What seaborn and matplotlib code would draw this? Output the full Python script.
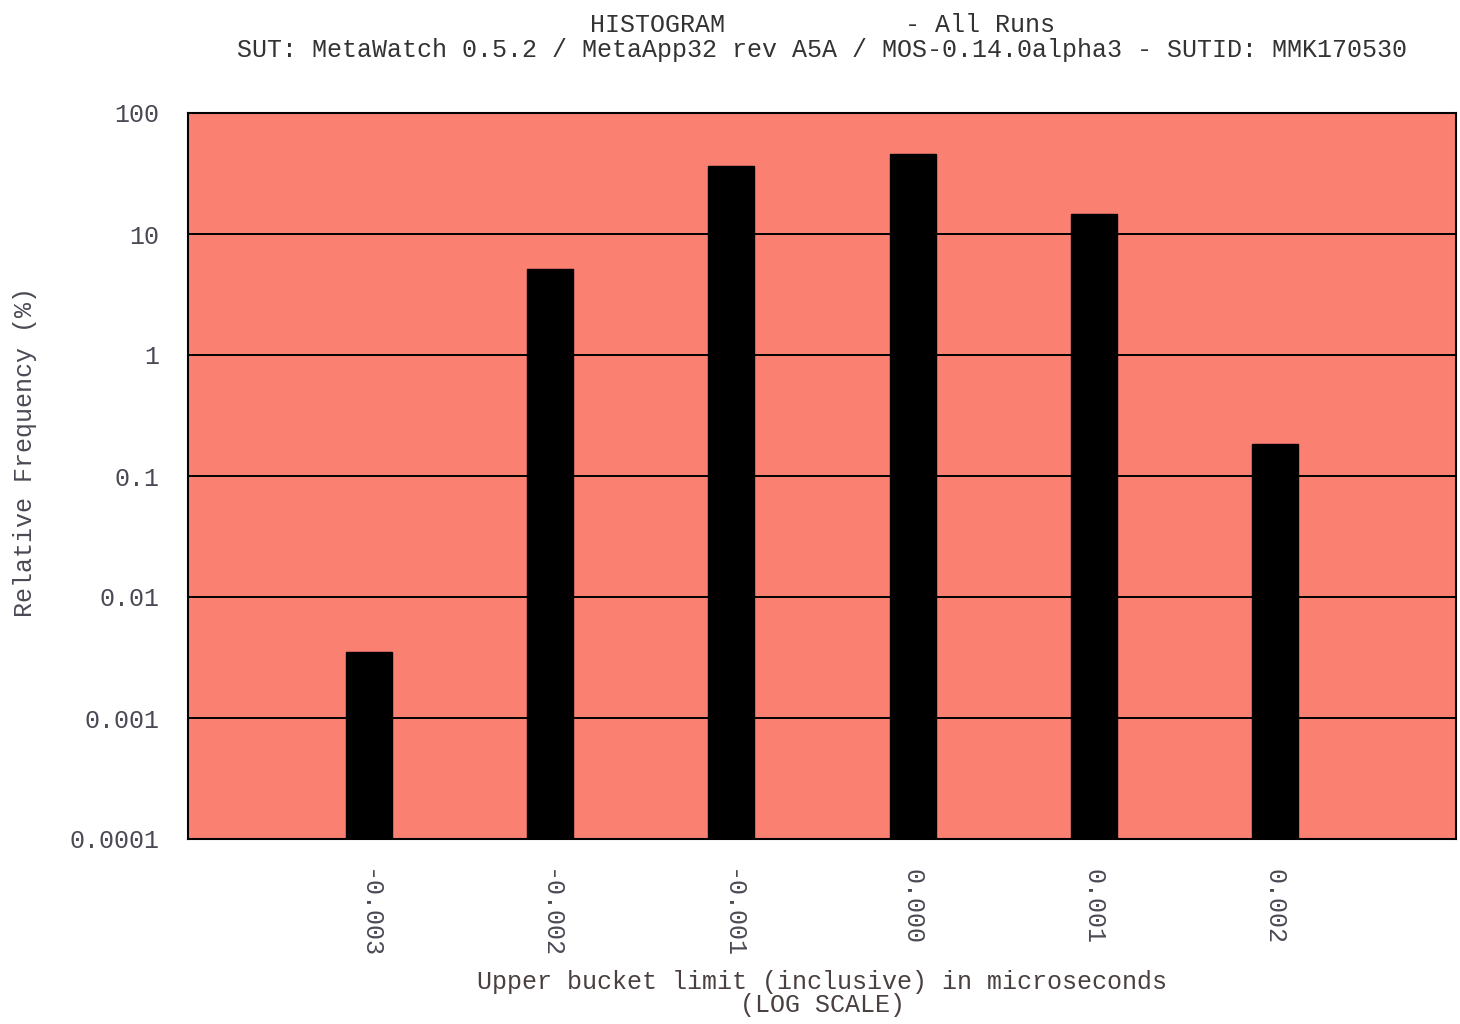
import matplotlib
matplotlib.use("Agg")
import matplotlib.pyplot as plt
import seaborn as sns
import pandas as pd
from matplotlib.ticker import FixedLocator, FixedFormatter, NullLocator

# Histogram buckets (upper limit, microseconds) and relative frequency (%)
bucket_labels = ["-0.003", "-0.002", "-0.001", "0.000", "0.001", "0.002"]
rel_freq = [0.0035, 5.1, 36.5, 45.8, 14.6, 0.184]

y_ticks = [0.0001, 0.001, 0.01, 0.1, 1, 10, 100]
y_tick_labels = ["0.0001", "0.001", "0.01", "0.1", "1", "10", "100"]

title_line1 = "HISTOGRAM            - All Runs"
title_line2 = "SUT: MetaWatch 0.5.2 / MetaApp32 rev A5A / MOS-0.14.0alpha3 - SUTID: MMK170530"
x_label = "Upper bucket limit (inclusive) in microseconds\n(LOG SCALE)"
y_label = "Relative Frequency (%)"

df = pd.DataFrame({"bucket": bucket_labels, "freq": rel_freq})

sns.set_theme(style="white")
plt.rcParams["font.family"] = ["Liberation Mono", "DejaVu Sans Mono"]

W, H = 1460, 1024
fig = plt.figure(figsize=(W / 100, H / 100), dpi=100)
ax = fig.add_axes([188 / W, 1 - 839 / H, 1268 / W, 726 / H])
ax.set_facecolor("#FA8072")

ax.set_yscale("log")
sns.barplot(data=df, x="bucket", y="freq", order=bucket_labels, color="black",
            edgecolor="black", linewidth=1, width=0.254, saturation=1, ax=ax)

ax.set_xlim(-1, 6)
ax.set_ylim(1e-4, 100)

ax.yaxis.set_major_locator(FixedLocator(y_ticks))
ax.yaxis.set_major_formatter(FixedFormatter(y_tick_labels))
ax.yaxis.set_minor_locator(NullLocator())

ax.set_axisbelow(True)
ax.yaxis.grid(True, color="black", linewidth=1.4)
ax.xaxis.grid(False)

for s in ax.spines.values():
    s.set_visible(True)
    s.set_color("black")
    s.set_linewidth(1.5)

ax.tick_params(axis="both", which="major", direction="out", length=9.5, width=1.3,
               color="#222222", labelsize=18, labelcolor="#4a4a55")
ax.tick_params(axis="y", pad=11)
ax.tick_params(axis="x", pad=12)
plt.setp(ax.get_xticklabels(), rotation=-90, ha="center", va="top")

ax.set_xlabel(x_label, fontsize=18, color="#4a4040", linespacing=0.95)
ax.xaxis.set_label_coords(0.5, -0.181)
ax.set_ylabel(y_label, fontsize=18, color="#4a4a55")
ax.yaxis.set_label_coords(-0.119, 0.533)

ax.set_title(title_line1 + "\n" + title_line2, fontsize=18, color="#333333",
             linespacing=1.08, pad=40)

fig.savefig("out.png", dpi=100, facecolor="white")
